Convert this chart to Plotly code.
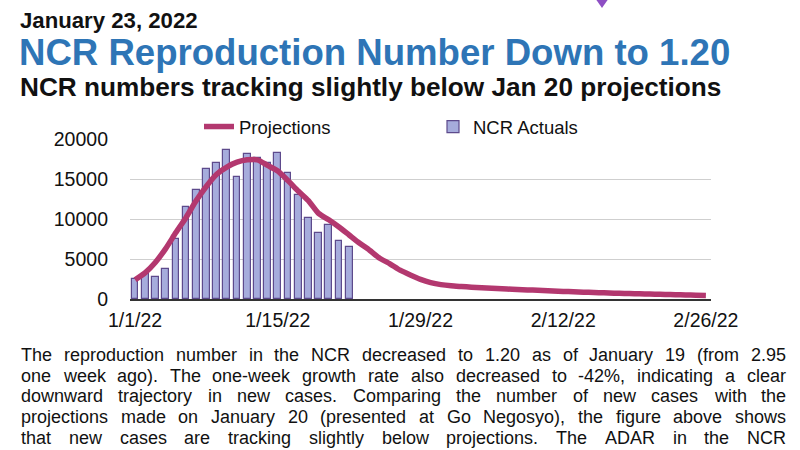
import plotly.graph_objects as go

# ---------------- data ----------------
actual_dates = [f"2022-01-{d:02d}" for d in range(1, 23)]
actual_cases = [2500, 3100, 2800, 3800, 7500, 11500, 13600, 16200, 17000, 18600, 15300,
                18100, 17600, 17000, 18300, 15800, 13000, 10100, 8200, 9300, 7200, 6500]

proj_dates = [f"2022-01-{d:02d}" for d in range(1, 32)] + [f"2022-02-{d:02d}" for d in range(1, 27)]
proj_cases = [2400, 3300, 4600, 6300, 8300, 10200, 12300, 14100, 15600, 16500, 17100,
              17400, 17400, 16700, 16000, 14800, 13500, 12300, 10700, 9900, 9000,
              8000, 7000, 6100, 5100, 4400, 3600, 3000, 2450, 2050, 1800,
              1650, 1560, 1480, 1420, 1350, 1280, 1210, 1160, 1110, 1060,
              1000, 950, 900, 850, 810, 770, 730, 700, 660, 630,
              600, 570, 540, 510, 480, 450]

x_tick_vals = ["2022-01-01", "2022-01-15", "2022-01-29", "2022-02-12", "2022-02-26"]
x_tick_text = ["1/1/22", "1/15/22", "1/29/22", "2/12/22", "2/26/22"]
y_tick_vals = [0, 5000, 10000, 15000, 20000]
y_tick_text = ["0", "5000", "10000", "15000", "20000"]

date_text = "January 23, 2022"
title_text = "NCR Reproduction Number Down to 1.20"
subtitle_text = "NCR numbers tracking slightly below Jan 20 projections"
paragraph_lines = [
    "The reproduction number in the NCR decreased to 1.20 as of January 19 (from 2.95",
    "one week ago). The one-week growth rate also decreased to -42%, indicating a clear",
    "downward trajectory in new cases. Comparing the number of new cases with the",
    "projections made on January 20 (presented at Go Negosyo), the figure above shows",
    "that new cases are tracking slightly below projections. The ADAR in the NCR",
]

# ---------------- layout geometry ----------------
W_PX, H_PX = 800, 450
L, R, T, B = 130, 89, 139, 151
PW = W_PX - L - R
PH = H_PX - T - B
BOTTOM = H_PX - B

def px_x(px):
    return (px - L) / PW

def px_y(py):
    return (BOTTOM - py) / PH

FONT = "Liberation Sans, Arial, Helvetica, sans-serif"
LINE_COLOR = "#B3386F"
BAR_FILL = "#A6ACDC"
BAR_EDGE = "#5D4A8C"

fig = go.Figure()
fig.add_trace(go.Bar(
    x=actual_dates, y=actual_cases, name="NCR Actuals",
    width=0.66 * 86400000,
    marker=dict(color=BAR_FILL, line=dict(color=BAR_EDGE, width=1.2)),
))
fig.add_trace(go.Scatter(
    x=proj_dates, y=proj_cases, name="Projections", mode="lines",
    line=dict(color=LINE_COLOR, width=5.5, shape="spline", smoothing=0.6),
))

fig.update_layout(
    width=W_PX, height=H_PX,
    margin=dict(l=L, r=R, t=T, b=B),
    paper_bgcolor="white", plot_bgcolor="white",
    font=dict(family=FONT, size=17, color="#111111"),
    bargap=0,
    showlegend=True,
    legend=dict(
        orientation="h", x=px_x(199), y=px_y(127), xanchor="left", yanchor="middle",
        traceorder="reversed", entrywidth=189, entrywidthmode="pixels",
        font=dict(family=FONT, size=18.5, color="#111111"), bgcolor="rgba(0,0,0,0)",
    ),
    xaxis=dict(
        type="date", range=["2021-12-31 12:00", "2022-02-26 12:00"],
        tickvals=x_tick_vals, ticktext=x_tick_text, showgrid=False,
        showline=True, linecolor="#333333", linewidth=1.5, ticks="",
        tickfont=dict(size=19.5, color="#111111"), ticklabelstandoff=3,
        fixedrange=True,
    ),
    yaxis=dict(
        range=[0, 20000], tickvals=y_tick_vals, ticktext=y_tick_text, showgrid=True,
        gridcolor="#CFCFCF", gridwidth=1, zeroline=False, showline=False,
        tickfont=dict(size=19.5, color="#111111"), ticklabelstandoff=21,
        fixedrange=True,
    ),
)

annotations = []

def add_text(text, px, py, size, color="#111111", bold=False):
    t = f"<b>{text}</b>" if bold else text
    annotations.append(dict(
        text=t, x=px_x(px), y=px_y(py), xref="paper", yref="paper",
        xanchor="left", yanchor="middle", showarrow=False, borderpad=0,
        font=dict(family=FONT, size=size, color=color),
    ))

add_text(date_text, 19, 20, 22.2, bold=True)
add_text(title_text, 18, 52, 36.6, color="#2E75B6", bold=True)
add_text(subtitle_text, 19, 87, 26.2, bold=True)

# Justified paragraph (word-by-word placement using Arial/Helvetica metrics)
CW = {' ': 278, 'a': 556, 'b': 556, 'c': 500, 'd': 556, 'e': 556, 'f': 278, 'g': 556,
      'h': 556, 'i': 222, 'j': 222, 'k': 500, 'l': 222, 'm': 833, 'n': 556, 'o': 556,
      'p': 556, 'q': 556, 'r': 333, 's': 500, 't': 278, 'u': 556, 'v': 500, 'w': 722,
      'x': 500, 'y': 500, 'z': 500, 'A': 667, 'B': 667, 'C': 722, 'D': 722, 'E': 667,
      'F': 611, 'G': 778, 'H': 722, 'I': 278, 'J': 500, 'K': 667, 'L': 556, 'M': 833,
      'N': 722, 'O': 778, 'P': 667, 'Q': 778, 'R': 722, 'S': 667, 'T': 611, 'U': 722,
      'V': 667, 'W': 944, 'X': 667, 'Y': 667, 'Z': 611, '.': 278, ',': 278, '(': 333,
      ')': 333, '-': 333, '%': 889}

def word_w(w, size):
    return sum(CW.get(c, 556) for c in w) * size / 1000.0

P_SIZE = 18
P_LEFT, P_RIGHT = 20, 785
P_TOP, P_PITCH = 355, 20.7
for i, line in enumerate(paragraph_lines):
    words = line.split(" ")
    widths = [word_w(w, P_SIZE) for w in words]
    gap = (P_RIGHT - P_LEFT - sum(widths)) / (len(words) - 1)
    xpos = P_LEFT
    for w, wd in zip(words, widths):
        add_text(w, xpos, P_TOP + i * P_PITCH, P_SIZE)
        xpos += wd + gap

fig.update_layout(annotations=annotations)

# small purple marker at top edge
fig.add_shape(type="path", xref="paper", yref="paper",
              path=f"M {px_x(595)} {px_y(-2)} L {px_x(609)} {px_y(-2)} L {px_x(602)} {px_y(8)} Z",
              fillcolor="#8E4FC4", line=dict(width=0))

fig.write_html("out.html", config={"displayModeBar": False},
               post_script="document.body.style.margin='0';document.body.style.overflow='hidden';")
